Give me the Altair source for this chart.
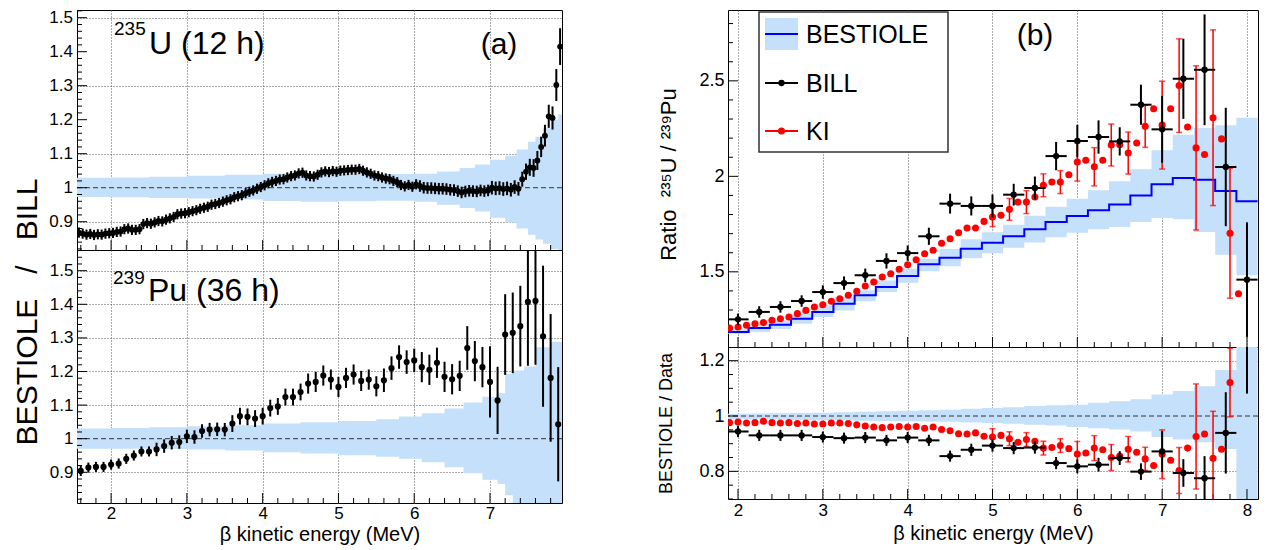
import altair as alt
import numpy as np
import pandas as pd

FONT = "Liberation Sans"
BAND = "#c5e0fa"
GRIDC = "#555555"
NB = "\u00a0"

# ===================== panel (a) : BESTIOLE / BILL =====================
# 235U (12 h), 50 keV bins, first bin centre 1.575 MeV
u_ratio = [
    0.868, 0.865, 0.862, 0.864, 0.861, 0.863, 0.862, 0.865, 0.866, 0.867,
    0.870, 0.871, 0.878, 0.880, 0.876, 0.876, 0.878, 0.893, 0.896, 0.894,
    0.898, 0.902, 0.901, 0.906, 0.910, 0.914, 0.922, 0.924, 0.925, 0.928,
    0.931, 0.934, 0.938, 0.941, 0.944, 0.950, 0.952, 0.955, 0.959, 0.963,
    0.966, 0.972, 0.975, 0.978, 0.984, 0.988, 0.992, 0.997, 1.002, 1.007,
    1.013, 1.017, 1.020, 1.024, 1.025, 1.030, 1.034, 1.036, 1.042, 1.044,
    1.036, 1.034, 1.033, 1.038, 1.045, 1.048, 1.046, 1.049, 1.047, 1.050,
    1.051, 1.052, 1.053, 1.053, 1.055, 1.050, 1.045, 1.041, 1.036, 1.034,
    1.030, 1.027, 1.025, 1.020, 1.016, 1.008, 1.004, 1.008, 1.003, 1.010,
    1.005, 1.000, 0.999, 0.999, 0.998, 0.997, 0.997, 0.996, 0.994, 0.993,
    0.990, 0.986, 0.989, 0.991, 0.990, 0.989, 0.992, 0.990, 0.992, 1.000,
    0.998, 0.999, 0.996, 0.998, 0.994, 1.002, 0.997, 1.025, 1.047, 1.060,
    1.058, 1.080, 1.120, 1.153, 1.210, 1.205, 1.302, 1.415,
]
u_err = ([0.015] * 90 + [0.017] * 19 + [0.02] * 8 +
         [0.022, 0.024, 0.025, 0.026, 0.028, 0.03, 0.032, 0.034, 0.034, 0.047, 0.054])
u_band_e = [1.55, 2.0, 2.5, 3.0, 3.5, 4.0, 4.5, 5.0, 5.5, 6.0, 6.3, 6.6, 6.8, 7.0, 7.2,
            7.35, 7.5, 7.6, 7.7, 7.8, 7.9, 7.95]
u_band_hi = [1.029, 1.030, 1.032, 1.035, 1.038, 1.041, 1.042, 1.042, 1.040, 1.041, 1.048,
             1.058, 1.068, 1.082, 1.094, 1.112, 1.135, 1.150, 1.175, 1.200, 1.215, 1.215]
u_band_lo = [0.973, 0.972, 0.970, 0.968, 0.965, 0.961, 0.959, 0.960, 0.962, 0.959, 0.950,
             0.940, 0.930, 0.912, 0.898, 0.880, 0.862, 0.848, 0.835, 0.820, 0.810, 0.810]

# 239Pu (36 h), 100 keV bins, first bin centre 1.6 MeV
pu_ratio = [
    0.904, 0.914, 0.916, 0.916, 0.923, 0.926, 0.940, 0.950, 0.962, 0.962,
    0.968, 0.978, 0.988, 0.990, 1.007, 1.005, 1.023, 1.027, 1.028, 1.027,
    1.045, 1.067, 1.065, 1.060, 1.067, 1.091, 1.096, 1.124, 1.124, 1.139,
    1.164, 1.169, 1.188, 1.176, 1.154, 1.181, 1.191, 1.172, 1.176, 1.156,
    1.174, 1.210, 1.243, 1.228, 1.233, 1.213, 1.205, 1.226, 1.184, 1.177,
    1.187, 1.270, 1.231, 1.213, 1.169, 1.114, 1.310, 1.315, 1.335, 1.407,
    1.410, 1.305, 1.181, 1.043,
]
pu_err = ([0.015] * 10 + [0.02] * 10 + [0.025] * 10 + [0.03] * 10 + [0.035] * 5 +
          [0.045] * 6 + [0.065, 0.06, 0.06] +
          [0.106, 0.10, 0.12, 0.12, 0.12, 0.19, 0.19, 0.21, 0.19, 0.17])
pu_band_e = [1.55, 2.0, 2.5, 3.0, 3.5, 4.0, 4.5, 5.0, 5.5, 5.8, 6.1, 6.4, 6.65, 6.9, 7.1,
             7.2, 7.3, 7.45, 7.6, 7.8, 7.95]
pu_band_hi = [1.030, 1.032, 1.034, 1.037, 1.040, 1.045, 1.049, 1.053, 1.058, 1.066, 1.076,
              1.090, 1.108, 1.125, 1.135, 1.193, 1.203, 1.215, 1.272, 1.288, 1.288]
pu_band_lo = [0.970, 0.970, 0.969, 0.968, 0.965, 0.960, 0.956, 0.951, 0.946, 0.940, 0.930,
              0.915, 0.897, 0.878, 0.865, 0.832, 0.800, 0.800, 0.800, 0.800, 0.800]

# ===================== panel (b) : ratio 235U / 239Pu =====================
bin_centres = [2.0, 2.25, 2.5, 2.75, 3.0, 3.25, 3.5, 3.75, 4.0, 4.25, 4.5, 4.75, 5.0,
               5.25, 5.5, 5.75, 6.0, 6.25, 6.5, 6.75, 7.0, 7.25, 7.5, 7.75, 8.0]
best_ratio = [1.185, 1.206, 1.223, 1.254, 1.290, 1.333, 1.377, 1.420, 1.478, 1.539, 1.574,
              1.621, 1.652, 1.686, 1.723, 1.761, 1.792, 1.822, 1.853, 1.900, 1.958, 1.991,
              1.982, 1.923, 1.869]
best_lo = [1.176, 1.186, 1.200, 1.228, 1.263, 1.298, 1.346, 1.394, 1.443, 1.503, 1.529,
           1.571, 1.597, 1.626, 1.653, 1.681, 1.705, 1.723, 1.735, 1.761, 1.782, 1.775,
           1.708, 1.590, 1.482]
best_hi = [1.199, 1.226, 1.247, 1.280, 1.325, 1.367, 1.403, 1.455, 1.516, 1.569, 1.619,
           1.671, 1.707, 1.746, 1.793, 1.841, 1.883, 1.927, 1.974, 2.037, 2.136, 2.218,
           2.253, 2.267, 2.307]
bill_ratio = [1.251, 1.290, 1.316, 1.347, 1.394, 1.441, 1.482, 1.557, 1.598, 1.686, 1.857,
              1.845, 1.845, 1.904, 1.939, 2.106, 2.185, 2.206, 2.183, 2.375, 2.246, 2.511,
              2.558, 2.049, 1.459]
bill_err = [0.03, 0.03, 0.03, 0.03, 0.035, 0.035, 0.035, 0.04, 0.04, 0.045, 0.052, 0.05,
            0.06, 0.057, 0.06, 0.074, 0.085, 0.087, 0.074, 0.105, 0.175, 0.21, 0.29, 0.31,
            0.30]
ki_x = [1.9, 2.0, 2.1, 2.2, 2.3, 2.4, 2.5, 2.6, 2.7, 2.8, 2.9, 3.0, 3.1, 3.2, 3.3, 3.4,
        3.5, 3.6, 3.7, 3.8, 3.9, 4.0, 4.1, 4.2, 4.3, 4.4, 4.5, 4.6, 4.7, 4.8, 4.9, 5.0,
        5.1, 5.2, 5.3, 5.4, 5.5, 5.6, 5.7, 5.8, 5.9, 6.0, 6.1, 6.2, 6.3, 6.4, 6.5, 6.6,
        6.7, 6.8, 6.9, 7.0, 7.1, 7.2, 7.3, 7.4, 7.5, 7.6, 7.7, 7.8, 7.9]
ki_ratio = [1.206, 1.211, 1.220, 1.228, 1.234, 1.246, 1.254, 1.263, 1.281, 1.298, 1.316,
            1.328, 1.346, 1.359, 1.377, 1.398, 1.426, 1.447, 1.473, 1.490, 1.513, 1.537,
            1.563, 1.595, 1.613, 1.650, 1.673, 1.705, 1.729, 1.729, 1.764, 1.787, 1.796,
            1.827, 1.865, 1.865, 1.892, 1.953, 1.970, 1.970, 2.008, 2.075, 2.084, 2.050,
            2.084, 2.164, 2.166, 2.122, 2.175, 2.262, 2.354, 2.268, 2.354, 2.475, 2.258,
            2.149, 2.114, 2.307, 2.196, 1.702, 1.385]
ki_err = [0] * 31 + [0.05, 0, 0.057, 0, 0.06, 0, 0.06, 0, 0.06, 0, 0.10, 0, 0.10, 0,
                     0.11, 0, 0.11, 0, 0.11, 0, 0.23, 0, 0.245, 0, 0.43, 0, 0.46, 0,
                     0.34, 0]
# lower pad: BESTIOLE / Data
bd_lo = [0.988, 0.988, 0.987, 0.986, 0.985, 0.984, 0.983, 0.982, 0.981, 0.980, 0.979,
         0.977, 0.975, 0.972, 0.968, 0.966, 0.960, 0.956, 0.951, 0.944, 0.924, 0.915,
         0.905, 0.881, 0.600]
bd_hi = [1.008, 1.009, 1.010, 1.011, 1.012, 1.014, 1.015, 1.017, 1.019, 1.021, 1.023,
         1.026, 1.029, 1.032, 1.036, 1.039, 1.041, 1.048, 1.053, 1.061, 1.078, 1.090,
         1.108, 1.166, 1.400]
bill_bd = [0.944, 0.930, 0.930, 0.930, 0.924, 0.920, 0.922, 0.912, 0.922, 0.912, 0.855,
           0.878, 0.893, 0.884, 0.886, 0.830, 0.818, 0.824, 0.848, 0.799, 0.872, 0.794,
           0.775, 0.939, 1.281]
bill_bd_err = [0.02, 0.02, 0.02, 0.02, 0.02, 0.02, 0.02, 0.02, 0.02, 0.02, 0.02, 0.022,
               0.022, 0.022, 0.022, 0.022, 0.025, 0.025, 0.025, 0.03, 0.074, 0.05, 0.08,
               0.147, 0.2]
ki_bd = [0.976, 0.978, 0.975, 0.976, 0.981, 0.976, 0.975, 0.976, 0.973, 0.975, 0.971,
         0.971, 0.975, 0.975, 0.973, 0.968, 0.964, 0.960, 0.958, 0.960, 0.962, 0.960,
         0.962, 0.956, 0.960, 0.951, 0.947, 0.936, 0.935, 0.939, 0.927, 0.924, 0.930,
         0.918, 0.905, 0.915, 0.909, 0.884, 0.886, 0.893, 0.882, 0.863, 0.866, 0.884,
         0.878, 0.850, 0.855, 0.880, 0.869, 0.845, 0.821, 0.862, 0.840, 0.803, 0.884,
         0.926, 0.935, 0.847, 0.880, 1.121, 1.350]
ki_bd_err = [0] * 31 + [0.03, 0, 0.025, 0, 0.025, 0, 0.025, 0, 0.025, 0, 0.045, 0, 0.045,
                        0, 0.047, 0, 0.046, 0, 0.042, 0, 0.088, 0, 0.083, 0, 0.19, 0,
                        0.17, 0, 0.124, 0]

# tick positions / labels
left_major_x = [2, 3, 4, 5, 6, 7]
right_major_x = [2, 3, 4, 5, 6, 7, 8]
left_y_labels = [0.9, 1.0, 1.1, 1.2, 1.3, 1.4, 1.5]
left_y_text = ["0.9", "1", "1.1", "1.2", "1.3", "1.4", "1.5"]
rt_y_labels = [1.5, 2.0, 2.5]
rb_y_labels = [0.8, 1.0, 1.2]

# ===================== geometry =====================
W_L, H_LT, H_LB = 485, 240, 253
W_R, H_RT, H_RB = 530, 337, 152
XD_L = [1.55, 7.95]
YD_LT = [0.8168, 1.5226]
YD_LB = [0.8086, 1.5616]
XD_R = [1.882, 8.13]
YD_RT = [1.1063, 2.871]
YD_RB = [0.700, 1.2495]


def sc(dom):
    return alt.Scale(domain=dom, nice=False, zero=False)


def X(f, dom, axis=alt.Undefined):
    return alt.X(f + ":Q", scale=sc(dom), axis=axis)


def Y(f, dom, axis=alt.Undefined):
    return alt.Y(f + ":Q", scale=sc(dom), axis=axis)


def ax(values, grid, labels, fs, title=None, **kw):
    return alt.Axis(values=values, grid=grid, gridColor=GRIDC, gridDash=[1, 2], gridWidth=1,
                    gridOpacity=1, ticks=False, domain=False, labels=labels, format="~g",
                    labelFont=FONT, labelFontSize=fs, labelColor="black",
                    labelFlush=False, labelOverlap=False,
                    title=title, titleFont=FONT, titleFontWeight="normal",
                    titleColor="black", **kw)


def pts_df(xs, vs, es):
    df = pd.DataFrame({"x": xs, "v": vs, "e": es})
    df["lo"] = df["v"] - df["e"]
    df["hi"] = df["v"] + df["e"]
    df["xlo"] = df["x"] - 0.125
    df["xhi"] = df["x"] + 0.125
    return df


def node_band(e, lo, hi):
    return pd.DataFrame({"x": e, "lo": lo, "hi": hi})


def bin_band(centres, lo, hi, half=0.125):
    xs = [c - half for c in centres] + [centres[-1] + half]
    return pd.DataFrame({"x": xs, "lo": lo + [lo[-1]], "hi": hi + [hi[-1]]})


def band(df, xd, yd, xaxis, yaxis):
    return alt.Chart(df).mark_area(interpolate="step-after", color=BAND, opacity=1,
                                   clip=True).encode(
        x=X("x", xd, xaxis), y=Y("lo", yd, yaxis), y2=alt.Y2("hi:Q"))


def unity(yd):
    return alt.Chart(pd.DataFrame({"v": [1.0]})).mark_rule(
        color="#333333", strokeDash=[5, 3], strokeWidth=1).encode(y=Y("v", yd))


def xticks(vals, xd, h, L):
    return alt.Chart(pd.DataFrame({"t": vals})).mark_rule(
        color="black", strokeWidth=1, clip=True).encode(
        x=X("t", xd), y=alt.value(h), y2=alt.value(h - L))


def yticks(vals, yd, L):
    return alt.Chart(pd.DataFrame({"t": vals})).mark_rule(
        color="black", strokeWidth=1, clip=True).encode(
        y=Y("t", yd), x=alt.value(0), x2=alt.value(L))


def ylabels(vals, texts, yd, fs):
    return alt.Chart(pd.DataFrame({"t": vals, "lab": texts})).mark_text(
        font=FONT, fontSize=fs, align="right", baseline="middle", color="black").encode(
        y=Y("t", yd), x=alt.value(-4), text="lab:N")


def vbars(df, xd, yd, color, w):
    return alt.Chart(df).mark_rule(color=color, strokeWidth=w, clip=True).encode(
        x=X("x", xd), y=Y("lo", yd), y2=alt.Y2("hi:Q"))


def hbars(df, xd, yd, color, w):
    return alt.Chart(df).mark_rule(color=color, strokeWidth=w, clip=True).encode(
        x=X("xlo", xd), x2=alt.X2("xhi:Q"), y=Y("v", yd))


def caps(df, xd, yd, color):
    c = pd.concat([pd.DataFrame({"x": df["x"], "c": df["lo"]}),
                   pd.DataFrame({"x": df["x"], "c": df["hi"]})])
    return alt.Chart(c).mark_tick(color=color, orient="horizontal", size=6, thickness=1.5,
                                  clip=True).encode(x=X("x", xd), y=Y("c", yd))


def dots(df, xd, yd, color, size):
    return alt.Chart(df).mark_circle(color=color, size=size, opacity=1, clip=True).encode(
        x=X("x", xd), y=Y("v", yd))


def text(s, x, y, size, align="left", baseline="alphabetic", angle=0):
    return alt.Chart(pd.DataFrame({"s": [s]})).mark_text(
        font=FONT, fontSize=size, align=align, baseline=baseline, color="black",
        angle=angle).encode(x=alt.value(x), y=alt.value(y), text="s:N")


def minor(lo, hi, step, majors):
    n = int(round((hi - lo) / step)) + 1
    vals = [round(lo + step * i, 3) for i in range(n)]
    return [v for v in vals if all(abs(v - m) > 1e-6 for m in majors)]


lx_minor = minor(1.6, 7.8, 0.2, left_major_x)
rx_minor = minor(2.0, 8.0, 0.2, right_major_x)
ly_major = left_y_labels
lty_minor = minor(0.82, 1.52, 0.02, ly_major)
lby_minor = minor(0.82, 1.56, 0.02, ly_major)
rty_minor = minor(1.2, 2.8, 0.1, rt_y_labels)
rby_minor = minor(0.7, 1.25, 0.05, rb_y_labels)

# ---------------- tables ----------------
u_x = list(np.round(1.575 + 0.05 * np.arange(len(u_ratio)), 3))
pu_x = list(np.round(1.6 + 0.1 * np.arange(len(pu_ratio)), 3))
u_df = pts_df(u_x, u_ratio, u_err)
pu_df = pts_df(pu_x, pu_ratio, pu_err)
bill_df = pts_df(bin_centres, bill_ratio, bill_err)
ki_df = pts_df(ki_x, ki_ratio, ki_err)
ki_err_df = ki_df[ki_df["e"] > 0]
billbd_df = pts_df(bin_centres, bill_bd, bill_bd_err)
kibd_df = pts_df(ki_x, ki_bd, ki_bd_err)
kibd_err_df = kibd_df[kibd_df["e"] > 0]
best_line = pd.DataFrame({"x": [c - 0.125 for c in bin_centres] + [bin_centres[-1] + 0.125],
                          "v": best_ratio + [best_ratio[-1]]})

# ---------------- left top ----------------
lt = alt.layer(
    band(node_band(u_band_e, u_band_lo, u_band_hi), XD_L, YD_LT,
         ax(left_major_x, True, False, 17),
         ax(left_y_labels, True, False, 17)),
    unity(YD_LT),
    xticks(left_major_x, XD_L, H_LT, 10), xticks(lx_minor, XD_L, H_LT, 5),
    yticks(ly_major, YD_LT, 10), yticks(lty_minor, YD_LT, 5),
    ylabels(left_y_labels, left_y_text, YD_LT, 17),
    vbars(u_df, XD_L, YD_LT, "black", 2),
    dots(u_df, XD_L, YD_LT, "black", 34),
    text("235", 37, 25, 19),
    text("U (12 h)", 72, 44, 32),
    text("(a)", 422, 44, 30, align="center"),
).properties(width=W_L, height=H_LT)

# ---------------- left bottom ----------------
lb = alt.layer(
    band(node_band(pu_band_e, pu_band_lo, pu_band_hi), XD_L, YD_LB,
         ax(left_major_x, True, True, 17, title="\u03b2 kinetic energy (MeV)",
            titleFontSize=20, titleY=37, titleBaseline="alphabetic", labelPadding=2),
         ax(left_y_labels, True, True, 17, labelPadding=4)),
    unity(YD_LB),
    xticks(left_major_x, XD_L, H_LB, 10), xticks(lx_minor, XD_L, H_LB, 5),
    yticks(ly_major, YD_LB, 10), yticks(lby_minor, YD_LB, 5),
    vbars(pu_df, XD_L, YD_LB, "black", 2),
    dots(pu_df, XD_L, YD_LB, "black", 38),
    text("239", 36, 34, 19),
    text("Pu (36 h)", 71, 51, 32),
    # common y title of panel (a)
    text("BESTIOLE" + NB * 3 + "/" + NB * 3 + "BILL", -40, 62, 30, align="center", angle=270),
).properties(width=W_L, height=H_LB)

# ---------------- right top ----------------
legend_layers = [
    alt.Chart(pd.DataFrame({"s": ["box"]})).mark_rect(
        fill="white", stroke="#333333", strokeWidth=1.5).encode(
        x=alt.value(31), x2=alt.value(220), y=alt.value(2), y2=alt.value(142)),
    alt.Chart(pd.DataFrame({"s": ["BESTIOLE"]})).mark_rect(fill=BAND).encode(
        x=alt.value(37), x2=alt.value(70), y=alt.value(8), y2=alt.value(40)),
    alt.Chart(pd.DataFrame({"s": ["BESTIOLE"]})).mark_rule(color="#0000ff", strokeWidth=2).encode(
        x=alt.value(37), x2=alt.value(70), y=alt.value(24)),
    alt.Chart(pd.DataFrame({"s": ["BILL"]})).mark_rule(color="black", strokeWidth=2).encode(
        x=alt.value(37), x2=alt.value(70), y=alt.value(73)),
    alt.Chart(pd.DataFrame({"s": ["BILL"]})).mark_circle(color="black", size=40, opacity=1).encode(
        x=alt.value(53.5), y=alt.value(73)),
    alt.Chart(pd.DataFrame({"s": ["KI"]})).mark_rule(color="#ff0000", strokeWidth=2).encode(
        x=alt.value(37), x2=alt.value(70), y=alt.value(121)),
    alt.Chart(pd.DataFrame({"s": ["KI"]})).mark_circle(color="#ff0000", size=50, opacity=1).encode(
        x=alt.value(53.5), y=alt.value(121)),
    text("BESTIOLE", 78, 25, 25, baseline="middle"),
    text("BILL", 78, 74, 25, baseline="middle"),
    text("KI", 78, 122, 25, baseline="middle"),
]

rt = alt.layer(
    band(bin_band(bin_centres, best_lo, best_hi), XD_R, YD_RT,
         ax(right_major_x, True, False, 17),
         ax(rt_y_labels, False, True, 18,
            title="Ratio" + NB * 2 + "\u00b2\u00b3\u2075U" + NB + "/" + NB + "\u00b2\u00b3\u2079Pu",
            titleFontSize=22, titleAngle=270, titleX=-53, titleY=164,
            titleBaseline="alphabetic", titleAlign="center", labelPadding=4)),
    xticks(right_major_x, XD_R, H_RT, 10), xticks(rx_minor, XD_R, H_RT, 5),
    yticks(rt_y_labels, YD_RT, 10), yticks(rty_minor, YD_RT, 5),
    alt.Chart(best_line).mark_line(interpolate="step-after", color="#0000ff", strokeWidth=2,
                                   clip=True).encode(x=X("x", XD_R), y=Y("v", YD_RT)),
    vbars(ki_err_df, XD_R, YD_RT, "#ff0000", 1.5),
    caps(ki_err_df, XD_R, YD_RT, "#ff0000"),
    dots(ki_df, XD_R, YD_RT, "#ff0000", 50),
    hbars(bill_df, XD_R, YD_RT, "black", 2),
    vbars(bill_df, XD_R, YD_RT, "black", 2),
    dots(bill_df, XD_R, YD_RT, "black", 40),
    *legend_layers,
    text("(b)", 307, 35, 30, align="center"),
).properties(width=W_R, height=H_RT)

# ---------------- right bottom ----------------
rb = alt.layer(
    band(bin_band(bin_centres, bd_lo, bd_hi), XD_R, YD_RB,
         ax(right_major_x, True, True, 17, title="\u03b2 kinetic energy (MeV)",
            titleFontSize=20, titleY=40, titleBaseline="alphabetic", labelPadding=3),
         ax(rb_y_labels, True, True, 18, title="BESTIOLE / Data",
            titleFontSize=18, titleAngle=270, titleX=-57, titleY=76,
            titleBaseline="alphabetic", titleAlign="center", labelPadding=4)),
    unity(YD_RB),
    xticks(right_major_x, XD_R, H_RB, 10), xticks(rx_minor, XD_R, H_RB, 5),
    yticks(rb_y_labels, YD_RB, 10), yticks(rby_minor, YD_RB, 5),
    vbars(kibd_err_df, XD_R, YD_RB, "#ff0000", 1.5),
    caps(kibd_err_df, XD_R, YD_RB, "#ff0000"),
    dots(kibd_df, XD_R, YD_RB, "#ff0000", 50),
    hbars(billbd_df, XD_R, YD_RB, "black", 2),
    vbars(billbd_df, XD_R, YD_RB, "black", 2),
    dots(billbd_df, XD_R, YD_RB, "black", 40),
).properties(width=W_R, height=H_RB)

left = alt.vconcat(lt, lb, spacing=0, bounds="flush")
right = alt.vconcat(rt, rb, spacing=0, bounds="flush")
chart = (
    alt.hconcat(left, right, spacing=93)
    .properties(padding={"left": 4, "top": 0, "right": 0, "bottom": 0})
    .configure(font=FONT)
    .configure_axis(labelOverlap=False)
    .configure_view(stroke="black", strokeWidth=1)
)

chart.save("out.html", embed_options={"renderer": "svg", "actions": False})
